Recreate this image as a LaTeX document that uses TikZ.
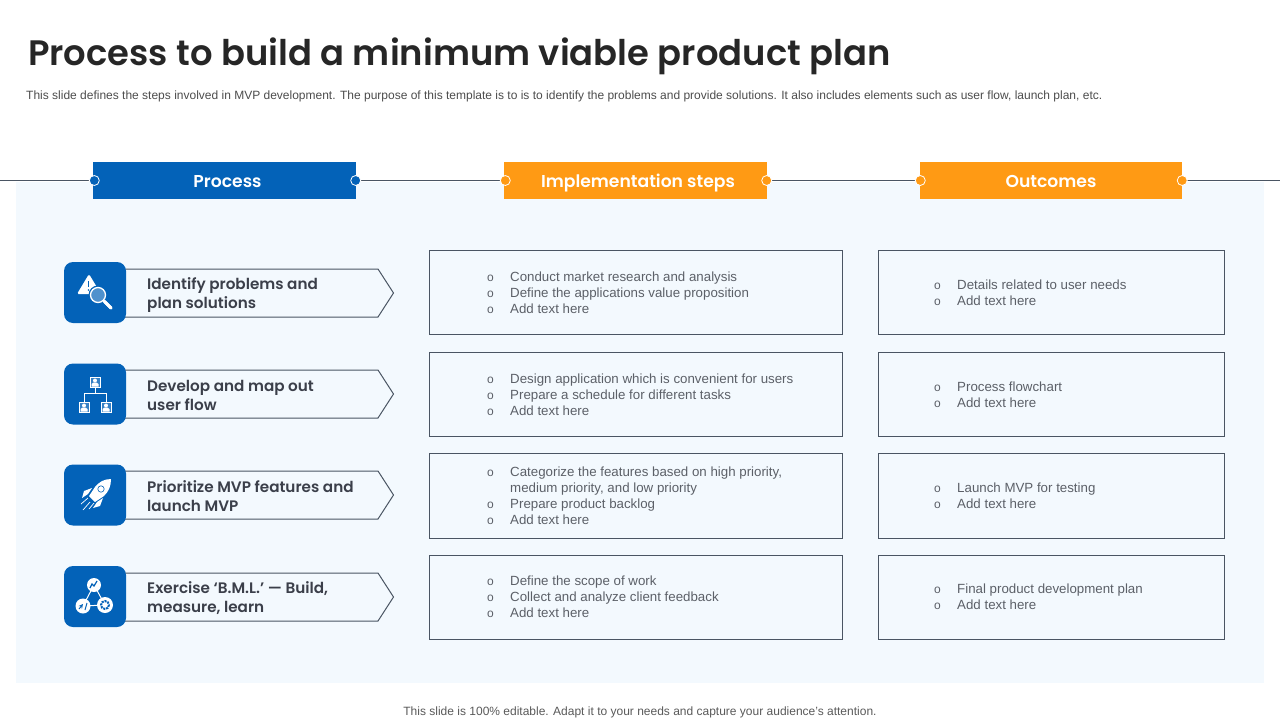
\documentclass[tikz,border=0pt]{standalone}
\usepackage{fontspec}
\setmainfont{Liberation Sans}
\newfontfamily\headfont{Poppins SemiBold}
\usepackage{xcolor}
\definecolor{panelblue}{HTML}{F3F9FE}
\definecolor{mainblue}{HTML}{0362B8}
\definecolor{mainorange}{HTML}{FF9A14}
\definecolor{slateline}{HTML}{4A5563}
\definecolor{labelgray}{HTML}{3B3F4A}
\definecolor{bodygray}{HTML}{5C6068}
\tikzset{
  headbox/.style={minimum width=263pt, minimum height=37pt, inner sep=0pt, text height=14pt, text depth=0pt, text=white, font=\headfont\fontsize{17.2}{20}\selectfont},
  linedot/.style={circle, draw=white, line width=0.8pt, minimum size=10pt, inner sep=0pt},
  iconbox/.style={fill=mainblue, rounded corners=9pt, minimum width=62pt, minimum height=61pt, inner sep=0pt},
  steplabel/.style={anchor=base west, inner sep=0pt, text=labelgray, font=\headfont\fontsize{15.2}{18}\selectfont},
  bodytext/.style={anchor=base west, inner sep=0pt, text=bodygray, font=\fontsize{13.3}{16}\selectfont},
  bullet/.style={anchor=base, inner sep=0pt, text=bodygray, font=\fontsize{12}{16}\selectfont},
  iconline/.style={draw=white, line width=1pt}
}
\begin{document}
\begin{tikzpicture}[x=1pt, y=-1pt]
  \useasboundingbox (0,0) rectangle (1280,720);

  % Fondo
  \fill[panelblue] (16,182) rectangle (1264,683);

  % Titulo
  \node[anchor=base west, inner sep=0pt, text=black!85, font=\headfont\fontsize{35.35}{40}\selectfont] (title) at (28,65) {Process to build a minimum viable product plan};
  \node[anchor=base west, inner sep=0pt, text=black!70, font=\fontsize{12}{14}\selectfont] (subtitle) at (26,99) {This slide defines the steps involved in MVP  development. The purpose of this template is to is to  identify the problems and provide solutions. It also includes elements such as  user flow, launch plan, etc.};
  \node[anchor=base, inner sep=0pt, text=black!65, font=\fontsize{12}{14}\selectfont] (footer) at (640,715) {This slide is 100\% editable. Adapt it to your needs and capture your audience's attention.};

  % Cabeceras
  \node[headbox, fill=mainblue] (process) at (224.5,180.5) {\hspace*{6pt}Process};
  \node[headbox, fill=mainorange] (implement) at (635.5,180.5) {\hspace*{5pt}Implementation steps};
  \node[headbox, fill=mainorange, minimum width=262pt] (outcomes) at (1051,180.5) {Outcomes};

  \coordinate (lineleft) at (0,180.5);
  \coordinate (lineright) at (1280,180.5);
  \draw[slateline, line width=1pt] (lineleft) -- (process.west);
  \draw[slateline, line width=1pt] (process.east) -- (implement.west);
  \draw[slateline, line width=1pt] (implement.east) -- (outcomes.west);
  \draw[slateline, line width=1pt] (outcomes.east) -- (lineright);

  \node[linedot, fill=mainblue] (dot1) at ([xshift=1.5pt]process.west) {};
  \node[linedot, fill=mainblue] (dot2) at ([xshift=-0.5pt]process.east) {};
  \node[linedot, fill=mainorange] (dot3) at ([xshift=1.5pt]implement.west) {};
  \node[linedot, fill=mainorange] (dot4) at ([xshift=-0.5pt]implement.east) {};
  \node[linedot, fill=mainorange] (dot5) at ([xshift=0.5pt]outcomes.west) {};
  \node[linedot, fill=mainorange] (dot6) at (outcomes.east) {};

  % Flechas de proceso
  \foreach \y in {269,370,471,573} {
    \draw[slateline, line width=1pt] (120,\y) -- (378,\y) -- (393.5,\y+24) -- (378,\y+48) -- (120,\y+48);
  }
  \node[iconbox] (icon1) at (95,292.5) {};
  \node[iconbox] (icon2) at (95,394) {};
  \node[iconbox] (icon3) at (95,495) {};
  \node[iconbox] (icon4) at (95,596.5) {};

  \node[steplabel] (label1a) at (147,289) {Identify problems and};
  \node[steplabel] (label1b) at (147,308) {plan solutions};
  \node[steplabel] (label2a) at (147,391) {Develop and map out};
  \node[steplabel] (label2b) at (147,410) {user flow};
  \node[steplabel] (label3a) at (147,492) {Prioritize MVP features and};
  \node[steplabel] (label3b) at (147,511) {launch MVP};
  \node[steplabel] (label4a) at (147,593) {Exercise ‘B.M.L.’ — Build,};
  \node[steplabel] (label4b) at (147,612) {measure, learn};

  % Icono 1
  \fill[white, rounded corners=1.5pt] (89,274) -- (101,294) -- (77,294) -- cycle;
  \draw[white, line width=3pt, line cap=round] (103,300) -- (111,308);
  \fill[mainblue] (98,295) circle (9.5);
  \draw[white, line width=1.3pt, fill=mainblue!70!white] (98,295) circle (7.5);
  \draw[white, line width=3pt, line cap=round] (104,301) -- (111,308);
  \draw[mainblue, line width=1.2pt] (88.5,281) -- (88.5,287);
  \fill[mainblue] (88.5,290) circle (0.8);

  % Icono 2
  \draw[iconline] (95,387) -- (95,393) (84,402) -- (84,393) -- (106,393) -- (106,402);
  \foreach \cx/\cy in {95/382,84/407,106/407} {
    \draw[white, line width=1pt, fill=mainblue!80!white] (\cx-5,\cy-5) rectangle (\cx+5,\cy+5);
    \fill[white] (\cx,\cy-1.5) circle (2);
    \fill[white] (\cx-3.5,\cy+4.5) -- (\cx-3.5,\cy+2) -- (\cx-1.5,\cy+0.5) -- (\cx+1.5,\cy+0.5) -- (\cx+3.5,\cy+2) -- (\cx+3.5,\cy+4.5) -- cycle;
  }

  % Icono 3
  \fill[white] (111,479) .. controls (104,479) and (99,482) .. (95,487) -- (89,496) -- (95,502) -- (104,496) .. controls (109,491) and (111,486) .. cycle;
  \fill[white] (92,488) -- (84,491) -- (82,498) -- (88,494) -- cycle;
  \fill[white] (103,498) -- (100,506) -- (93,508) -- (97,502) -- cycle;
  \draw[mainblue, line width=0.6pt] (101,489) circle (3.2);
  \draw[white, line width=0.7pt] (88,498) -- (81,504) (90,502) -- (83,510) (94,503) -- (89,509);

  % Icono 4
  \draw[iconline] (94,585) -- (83,606) -- (105,605) -- cycle;
  \fill[white] (94,585) circle (7);
  \fill[white] (83,606) circle (7.5);
  \fill[white] (105,605) circle (8);
  \draw[mainblue, line width=1.2pt] (90,588) -- (92,584) -- (94,586) -- (97,581);
  \draw[mainblue, line width=1pt, -stealth] (79,609) -- (83,604);
  \draw[mainblue, line width=1pt] (85,610) -- (87,603);
  \draw[mainblue, line width=2pt, densely dotted] (105,605) circle (4);
  \fill[white] (105,605) circle (1.8);

  % Cajas centrales
  \foreach \y/\h in {250/84,352/84,453/85,555/84} {
    \draw[slateline, line width=1pt] (429,\y) rectangle (842.5,\y+\h);
  }
  \foreach \ty/\t in {281/{Conduct  market  research  and analysis},297/{Define  the applications value  proposition},313/{Add text here},383/{Design application which is convenient  for users},399/{Prepare  a schedule for  different  tasks},415/{Add text here},476/{Categorize  the  features  based on high  priority,},508/{Prepare   product backlog},524/{Add text here},585/{Define the scope of work},601/{Collect and analyze client feedback},617/{Add text here}} {
    \node[bullet] at (490.5,\ty) {o};
    \node[bodytext] at (510,\ty) {\t};
  }
  \node[bodytext] (medium) at (510,492) {medium priority, and low priority};

  % Cajas derechas
  \foreach \y/\h in {250/84,352/84,453/85,555/84} {
    \draw[slateline, line width=1pt] (878,\y) rectangle (1224.5,\y+\h);
  }
  \foreach \ty/\t in {289/{Details related to user needs},305/{Add text here},391/{Process flowchart},407/{Add text here},492/{Launch MVP for testing},508/{Add text here},593/{Final product development  plan},609/{Add text here}} {
    \node[bullet] at (937.5,\ty) {o};
    \node[bodytext] at (957,\ty) {\t};
  }
\end{tikzpicture}
\end{document}
